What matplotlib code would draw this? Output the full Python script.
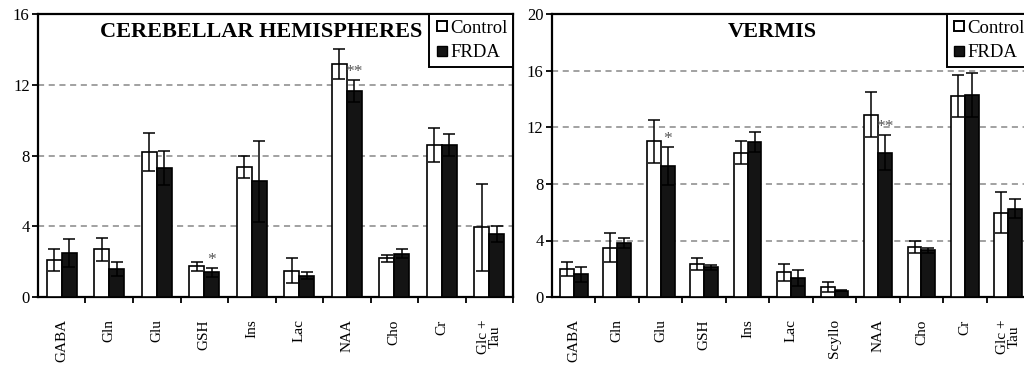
import numpy as np
import matplotlib.pyplot as plt
from matplotlib.lines import Line2D

plt.rcParams['font.family'] = ['Liberation Serif', 'DejaVu Serif']

# cerebellar hemispheres
hem_labels = ['GABA', 'Gln', 'Glu', 'GSH', 'Ins', 'Lac', 'NAA', 'Cho', 'Cr', 'Glc +\nTau']
hem_ctrl = [2.1, 2.7, 8.2, 1.75, 7.35, 1.5, 13.2, 2.2, 8.6, 3.95]
hem_ctrl_sd = [0.6, 0.65, 1.05, 0.25, 0.6, 0.7, 0.85, 0.2, 0.95, 2.45]
hem_frda = [2.5, 1.6, 7.3, 1.4, 6.55, 1.2, 11.65, 2.45, 8.6, 3.55]
hem_frda_sd = [0.8, 0.4, 0.95, 0.25, 2.3, 0.2, 0.6, 0.25, 0.6, 0.45]
hem_stars = {3: '*', 6: '**'}

# vermis
ver_labels = ['GABA', 'Gln', 'Glu', 'GSH', 'Ins', 'Lac', 'Scyllo', 'NAA', 'Cho', 'Cr', 'Glc +\nTau']
ver_ctrl = [2.0, 3.5, 11.0, 2.35, 10.2, 1.75, 0.7, 12.9, 3.55, 14.2, 5.95]
ver_ctrl_sd = [0.5, 1.0, 1.5, 0.4, 0.8, 0.6, 0.35, 1.6, 0.4, 1.5, 1.45]
ver_frda = [1.6, 3.8, 9.25, 2.1, 10.95, 1.35, 0.45, 10.2, 3.3, 14.3, 6.25]
ver_frda_sd = [0.5, 0.35, 1.35, 0.15, 0.7, 0.6, 0.05, 1.25, 0.15, 1.55, 0.65]
ver_stars = {2: '*', 7: '**'}


def panel(ax, labels, ctrl, csd, frda, fsd, stars, ymax, title, title_x):
    x = np.arange(len(labels))
    w = 0.32
    ax.bar(x - w / 2, ctrl, w, color='white', edgecolor='black', linewidth=1.2, zorder=3)
    ax.bar(x + w / 2, frda, w, color='#141414', edgecolor='black', linewidth=1.2, zorder=3)
    ax.errorbar(x - w / 2, ctrl, yerr=csd, fmt='none', ecolor='black', elinewidth=1.1,
                capsize=4.5, capthick=1.1, zorder=4)
    ax.errorbar(x + w / 2, frda, yerr=fsd, fmt='none', ecolor='black', elinewidth=1.1,
                capsize=4.5, capthick=1.1, zorder=4)
    for i, s in stars.items():
        ax.text(x[i] + w / 2, frda[i] + fsd[i], s, color='#555555',
                fontsize=12.5, ha='center', va='bottom', zorder=5)
    ax.set_xlim(-0.5, len(labels) - 0.5)
    ax.set_ylim(0, ymax)
    ax.set_yticks(np.arange(0, ymax + 1, 4))
    for g in np.arange(4, ymax, 4):
        ax.axhline(g, color='#888888', linestyle=(0, (4, 3)), linewidth=1.1, zorder=1)
    ax.set_xticks(x)
    ax.set_xticklabels(labels, rotation=90, fontsize=11, va='top', ha='center',
                       linespacing=0.85)
    ax.set_xticks(np.arange(0.5, len(labels), 1), minor=True)
    ax.tick_params(axis='x', which='major', length=0, pad=16)
    ax.tick_params(axis='x', which='minor', length=4, width=1.3, direction='out')
    ax.tick_params(axis='y', length=4, width=1.3, direction='out', labelsize=12, pad=2)
    for sp in ax.spines.values():
        sp.set_linewidth(1.6)
    ax.text(title_x, 0.935, title, transform=ax.transAxes, fontsize=16, fontweight='bold',
            ha='center', va='center')
    handles = [Line2D([], [], marker='s', linestyle='none', markerfacecolor='white',
                      markeredgecolor='black', markeredgewidth=1.4, markersize=6.5),
               Line2D([], [], marker='s', linestyle='none', markerfacecolor='#141414',
                      markeredgecolor='black', markersize=6.5)]
    leg = ax.legend(handles, ['Control', 'FRDA'], loc='upper right', borderaxespad=0,
                    fontsize=13.5, fancybox=False, handletextpad=0.05, handlelength=0.75,
                    borderpad=0.3, labelspacing=0.4, framealpha=1)
    leg.get_frame().set_edgecolor('black')
    leg.get_frame().set_linewidth(1.4)


fig = plt.figure(figsize=(10.24, 3.70), dpi=100)
ax1 = fig.add_axes([0.0371, 0.197, 0.4639, 0.765])
ax2 = fig.add_axes([0.539, 0.197, 0.467, 0.765])

panel(ax1, hem_labels, hem_ctrl, hem_ctrl_sd, hem_frda, hem_frda_sd, hem_stars, 16,
      'CEREBELLAR HEMISPHERES', 0.47)
panel(ax2, ver_labels, ver_ctrl, ver_ctrl_sd, ver_frda, ver_frda_sd, ver_stars, 20,
      'VERMIS', 0.46)

fig.savefig('out.png', dpi=100)
